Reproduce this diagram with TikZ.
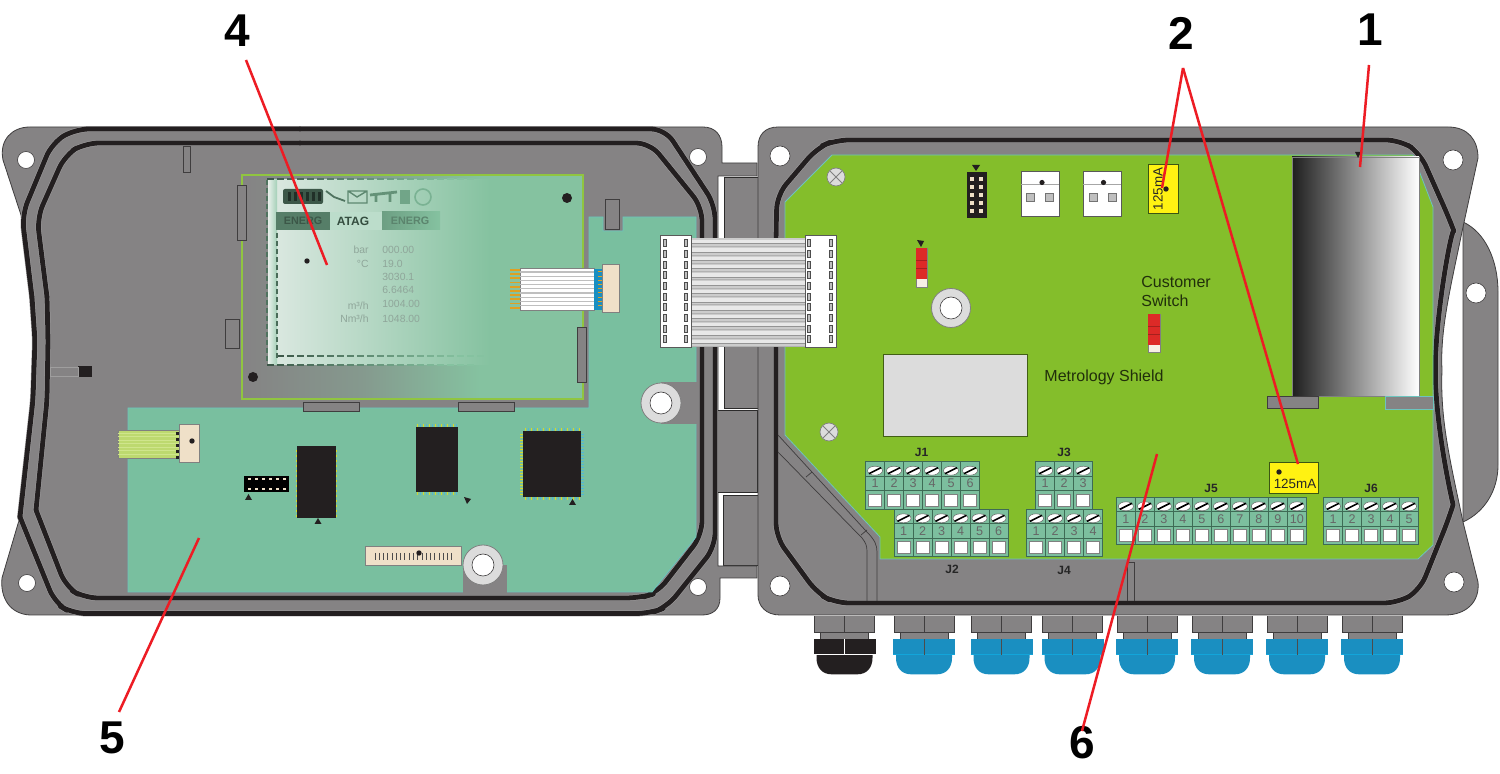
\documentclass[tikz,border=0pt]{standalone}
\usepackage{fontspec}
\setmainfont{Liberation Sans}
\definecolor{lidgray}{HTML}{858384}
\definecolor{lidline}{HTML}{3F3D3E}
\definecolor{gasket}{HTML}{231F20}
\definecolor{gasketedge}{HTML}{A3A1A2}
\definecolor{boardgreen}{HTML}{84BE2B}
\definecolor{boardedge}{HTML}{6CC4BE}
\definecolor{pcbteal}{HTML}{79BF9F}
\definecolor{panelteal}{HTML}{85C2A0}
\definecolor{termgreen}{HTML}{7CBF9E}
\definecolor{termline}{HTML}{3E6B55}
\definecolor{leader}{HTML}{ED1C24}
\definecolor{beige}{HTML}{EFE0C8}
\definecolor{glandblue}{HTML}{1A8FC1}
\definecolor{glandedge}{HTML}{12A5DA}
\definecolor{pinyellow}{HTML}{D6D92A}
\definecolor{pinblue}{HTML}{4FB7D8}
\definecolor{gold}{HTML}{E0A020}
\definecolor{washer}{HTML}{DCDCDC}
\definecolor{chip}{HTML}{231F20}
\definecolor{fuse}{HTML}{FFF212}
\definecolor{switchred}{HTML}{DD2A27}
\definecolor{lcdink}{HTML}{8FA69A}
\definecolor{lcdlight}{HTML}{DDE9E2}
\definecolor{lcdband}{HTML}{E8F0EB}
\definecolor{flexgreen}{HTML}{BDD96F}
\definecolor{flexlight}{HTML}{CFE58C}
\tikzset{
  x=0.5pt,y=-0.5pt,
  lid/.style={fill=lidgray,draw=lidline,line width=0.4pt},
  gasketunder/.style={draw=gasketedge,line width=2.9pt,line join=round,line cap=round},
  gasketline/.style={draw=gasket,line width=2.4pt,line join=round,line cap=round},
  clip part/.style={fill=lidgray,draw=#1,line width=0.5pt},
  clip part/.default=lidline,
  thinrib/.style={draw=lidline,line width=0.35pt},
  hingeblock/.style={fill=lidgray,draw=lidline!70!black,line width=0.4pt},
  hole/.style={fill=white,draw=lidline,line width=0.3pt},
  washerring/.style={fill=washer,draw=gray,line width=0.4pt},
  leaderline/.style={draw=leader,line width=1.25pt},
  bignum/.style={font=\fontsize{23}{23}\selectfont\bfseries,inner sep=0pt},
  boardtext/.style={font=\fontsize{8}{9.5}\selectfont,text=black!75!boardgreen,inner sep=0pt},
  jlabel/.style={font=\fontsize{6}{6}\selectfont\bfseries,text=black!85,inner sep=0pt},
  termnum/.style={font=\fontsize{6.3}{6.3}\selectfont,text=black!60,inner sep=0pt},
  fusetext/.style={font=\fontsize{6.7}{6.7}\selectfont,text=black!85,inner sep=0pt},
  lcdtext/.style={font=\fontsize{5.2}{5.2}\selectfont,text=lcdink,inner sep=0pt},
  slot/.style={fill=lightgray,draw=black!70,line width=0.3pt},
  whitepart/.style={fill=white,draw=black!65,line width=0.5pt},
}
\newcommand{\termblock}[4]{%
  \begin{scope}[shift={(#1,#2)}]
    \foreach \i in {1,...,#3}{
      \pgfmathsetmacro{\cx}{19*(\i-1)}
      \fill[termgreen] (\cx,0) rectangle +(19,47.5);
      \draw[termline,line width=0.4pt] (\cx,0) rectangle +(19,47.5);
      \draw[termline,line width=0.3pt] (\cx,14.5) -- +(19,0) (\cx,29) -- +(19,0);
      \filldraw[fill=white,draw=black!60,line width=0.25pt] ({\cx+9.5},9) ellipse [x radius=7.5,y radius=4.5];
      \draw[black,line width=0.8pt] ({\cx+3.5},12) -- ({\cx+15.5},6);
      \node[termnum] (#4-\i) at ({\cx+9.5},21.7) {\i};
      \fill[white] ({\cx+3},32.3) rectangle +(13,12);
      \draw[black!50,line width=0.4pt] ({\cx+3},32.3) rectangle +(13,12);
    }
  \end{scope}}
\newcommand{\gland}[4]{%
  \begin{scope}[shift={(#1,0)}]
    \fill[lidgray] (-30,616.5) rectangle (30,632.7);
    \draw[lidline,line width=0.35pt] (-30,616.5) -- (-30,632.7) -- (30,632.7) -- (30,616.5) (0,616.5) -- (0,632.7);
    \fill[lidgray] (-24,632.7) rectangle (24,639.5);
    \draw[lidline,line width=0.3pt] (-24,632.7) -- (-24,639.5) (24,632.7) -- (24,639.5);
    \fill[#2] (-31,639.5) rectangle (31,655);
    \fill[#2] (-28,655) -- (-28,658) .. controls (-28,668) and (-22,674.3) .. (-13,674.3) -- (13,674.3) .. controls (22,674.3) and (28,668) .. (28,658) -- (28,655) -- cycle;
    \draw[#4,line width=0.5pt] (-31,655) -- (31,655);
    \draw[#3,line width=0.4pt] (0,639.5) -- (0,655);
  \end{scope}}
\newcommand{\fusebox}[4]{\draw[fill=fuse,draw=black!55!boardgreen,line width=0.4pt] (#1,#2) rectangle (#3,#4);}
\begin{document}
\begin{tikzpicture}
\useasboundingbox (0,0) rectangle (1500,774);
\fill[white] (0,0) rectangle (1500,774);

% cable glands
\gland{844.5}{gasket}{white}{white}
\gland{924}{glandblue}{black!70}{glandedge}
\gland{1001.5}{glandblue}{black!70}{glandedge}
\gland{1072.5}{glandblue}{black!70}{glandedge}
\gland{1147}{glandblue}{black!70}{glandedge}
\gland{1222}{glandblue}{black!70}{glandedge}
\gland{1297}{glandblue}{black!70}{glandedge}
\gland{1372}{glandblue}{black!70}{glandedge}

% hinges
\draw[hingeblock] (724,177) rectangle (758,408);
\draw[hingeblock] (723,495) rectangle (758,565);

% left lid
\draw[lid] (30,127) -- (703,127) .. controls (715,127) and (722,135) .. (722,147) -- (722,163) -- (757,163) -- (757,176) -- (718,176) -- (718,566) -- (757,566) -- (757,578) -- (720,578) -- (720,598) .. controls (720,610) and (712,615) .. (702,615) -- (30,615) .. controls (10,614) and (0,598) .. (2,578) -- (20,517) -- (33,400) -- (35,340) -- (32,297) -- (21,215) -- (3,160) .. controls (-1,140) and (12,127) .. (30,127) -- cycle;
\draw[hingeblock] (717,410) rectangle (757,492);

% right lid with side bump
\draw[lid] (1463,222) .. controls (1485,232) and (1498,260) .. (1498,292) -- (1498,465) .. controls (1498,490) and (1485,512) .. (1463,522) -- cycle;
\draw[lid] (758,147) .. controls (758,135) and (765,127) .. (778,127) -- (1448,127) .. controls (1468,127) and (1478,140) .. (1478,158) -- (1463,227) .. controls (1450,290) and (1440,330) .. (1442,370) .. controls (1440,420) and (1450,460) .. (1463,522) -- (1478,582) .. controls (1480,602) and (1466,615) .. (1445,615) -- (780,615) .. controls (766,615) and (758,606) .. (758,595) -- cycle;

% gaskets, left lid
\foreach \st in {gasketunder,gasketline}{
  \draw[\st,rounded corners=7pt] (300,129) -- (75,129) -- (52,143) -- (22,215) -- (32,297);
  \draw[\st,rounded corners=4pt] (32,297) -- (35,340) -- (33,400) -- (20,517);
  \draw[\st,rounded corners=7pt] (20,517) -- (55,603) -- (72,613.5) -- (650,613.5) -- (667,607) -- (715,547) -- (715,205) -- (665,129) -- (300,129);
  \draw[\st,rounded corners=7pt] (300,143) -- (85,143) -- (65,155) -- (37,218) -- (47,297);
  \draw[\st,rounded corners=4pt] (47,297) -- (48,340) -- (47,400) -- (36,510);
  \draw[\st,rounded corners=7pt] (36,510) -- (66,587) -- (84,598) -- (640,598) -- (657,593) -- (702,535) -- (702,207) -- (650,143) -- (300,143);
}
% gasket, right lid
\foreach \st in {gasketunder,gasketline}{
  \draw[\st,rounded corners=7pt] (1000,140) -- (1400,140) -- (1420,153) -- (1449,218) .. controls (1452,226) and (1438,300) .. (1435,370) .. controls (1438,440) and (1453,505) .. (1449,518) -- (1420,590) -- (1398,603) -- (835,603) -- (817,593) -- (776,537) -- (776,235) -- (777,195) -- (817,148) -- (835,140) -- (1000,140);
}

% ribs on right lid
\draw[thinrib] (778,435) -- (866,531) .. controls (875,540) and (877,545) .. (877,552) -- (877,601);
\draw[thinrib] (778,452) -- (862,538) .. controls (866,543) and (867,546) .. (867,552) -- (867,601);
\draw[thinrib] (806,477) -- (812,472) (861,535) -- (867,530);
\draw[thinrib] (1127,601) -- (1127,562) -- (1134.5,562) -- (1134.5,601);

% small parts of left lid
\draw[clip part] (183,147) rectangle (190,173);
\fill[gasket] (78,366) rectangle (92,377);
\draw[thinrib,draw=lidline!50!white] (50,367) rectangle (78,376);

% teal board of the lid
\draw[fill=pcbteal,draw=boardedge,line width=0.4pt] (128,408) -- (589,408) -- (589,217) -- (603,217) -- (603,231) -- (623,231) -- (623,217) -- (696,217) -- (696,537) -- (652,592) -- (128,592) -- cycle;
\fill[lidgray] (661,382) rectangle (696.5,424);
\fill[lidgray] (463,565) rectangle (506.5,593);
\draw[clip part] (605,200) rectangle (619,230);

% display panel
\shade[left color=lidgray,right color=panelteal,middle color=lidgray!65!panelteal] (242,175) rectangle (480,399);
\fill[panelteal] (480,175) rectangle (583,399);
\shade[left color=lcdlight,right color=panelteal] (268,180) rectangle (490,365);
\shade[left color=lcdband,right color=lcdlight!35!panelteal] (268,180) rectangle (277,365);
\draw[draw=boardgreen!90!white,line width=0.8pt] (242,175) rectangle (583,399);
\fill[gasket] (567,198) circle (5);
\fill[gasket] (253,377) circle (5);
% display frame
\foreach \x in {0,10,...,200}{
  \pgfmathtruncatemacro{\p}{max(0,55-\x*0.3)}
  \draw[draw=black!\p!panelteal,line width=0.55pt] ({277+\x},356) -- ({284+\x},356);
  \draw[draw=black!\p!panelteal,line width=0.55pt] ({267+\x},365) -- ({274+\x},365);
  \draw[draw=black!\p!panelteal,line width=0.55pt] ({267+\x},179) -- ({274+\x},179);
}
\foreach \y in {233,241,...,353}{\draw[draw=black!45!panelteal,line width=0.55pt] (277,\y) -- (277,{\y+5});}
\foreach \y in {180,188,...,360}{\draw[draw=black!40!panelteal,line width=0.55pt] (267,\y) -- (267,{\y+5});}
% display tabs
\fill[black!35!panelteal] (276,212) rectangle (330,230);
\fill[white!45!panelteal] (330,212) rectangle (382,230);
\shade[left color=black!18!panelteal,right color=panelteal] (382,212) rectangle (440,230);
\node[font=\fontsize{5.4}{5.4}\selectfont\bfseries,text=black!55!panelteal,inner sep=0pt] (tabone) at (303,221) {ENERG};
\node[font=\fontsize{6}{6}\selectfont\bfseries,text=black!60!panelteal,inner sep=0pt] (tabtwo) at (353,221) {ATAG};
\node[font=\fontsize{5.4}{5.4}\selectfont\bfseries,text=black!32!panelteal,inner sep=0pt] (tabthree) at (410,221) {ENERG};
% display status icons
\fill[black!55!panelteal,rounded corners=1pt] (283,189) rectangle (323,204);
\foreach \x in {288,294,...,318}{\fill[black!75!panelteal] (\x,192) rectangle +(3,9);}
\draw[black!40!panelteal,line width=0.9pt] (326,191) -- (334,197) -- (345,201);
\draw[black!30!panelteal,line width=0.7pt] (348,191) rectangle (367,203) (348,191) -- (357,197) -- (367,191);
\draw[black!25!panelteal,line width=1.4pt] (370,195) -- (397,192) (376,195) -- (376,202) (390,193) -- (390,202);
\fill[black!15!panelteal] (400,190) rectangle (410,204);
\draw[black!8!panelteal,line width=0.8pt] (423,197) circle (8);
\fill[gasket] (307,261) circle (2.7);
% display values
\node[lcdtext,anchor=east] (ub) at (369,250) {bar};
\node[lcdtext,anchor=east] (uc) at (369,264) {°C};
\node[lcdtext,anchor=east] (ud) at (369,306) {m³/h};
\node[lcdtext,anchor=east] (ue) at (369,319) {Nm³/h};
\node[lcdtext,anchor=west] (va) at (382,250) {000.00};
\node[lcdtext,anchor=west] (vb) at (382,264) {19.0};
\node[lcdtext,anchor=west] (vc) at (382,277) {3030.1};
\node[lcdtext,anchor=west] (vd) at (382,290) {6.6464};
\node[lcdtext,anchor=west] (ve) at (382,304) {1004.00};
\node[lcdtext,anchor=west] (vf) at (382,319) {1048.00};

% clips round the panel
\draw[clip part] (237,186) rectangle (246,241);
\draw[clip part] (225,320) rectangle (239,349);
\draw[clip part] (577,328) rectangle (586,383);
\draw[clip part] (303,403) rectangle (359,412);
\draw[clip part] (458,403) rectangle (514,412);

% flex cable of the display
\foreach \y in {270,274.2,...,309}{\draw[gold,line width=0.9pt] (510,\y) -- (520,\y);}
\draw[fill=white,draw=gray,line width=0.4pt] (520,268) rectangle (594,310);
\foreach \y in {272,276.2,...,309}{\draw[lightgray,line width=0.55pt] (520,\y) -- (594,\y);}
\fill[glandblue] (594,269) rectangle (602,310);
\foreach \y in {272,276.2,...,309}{\draw[gold,line width=0.5pt] (598,\y) -- (602,\y);}
\draw[fill=beige,draw=gray,line width=0.5pt] (602,265) rectangle (619,313);

% parts of the lid board
\foreach \y in {432,435,...,456}{\draw[black!50,line width=0.25pt] (117,\y) -- (119,\y);}
\draw[fill=flexgreen,draw=gray,line width=0.3pt] (118,430) rectangle (179,458);
\foreach \y in {433,436.5,...,456}{\draw[flexlight,line width=0.4pt] (118,\y) -- (179,\y);}
\foreach \y in {432,438,...,456}{\fill[gasket] (176,\y) rectangle (179.5,{\y+3.5});}
\draw[fill=beige,draw=gray,line width=0.5pt] (179,425) rectangle (199,463);
\fill[gasket] (192,441) circle (2.7);

\fill[black] (244,476) rectangle (289,492);
\foreach \x in {249,256,...,284}{\foreach \y in {479,489}{\fill[beige] ({\x-1},{\y-1}) rectangle +(2.5,2.5);}}
\fill[gasket] (245,500) -- (248.5,494) -- (252,500) -- cycle;

\foreach \y in {450,455,...,515}{\fill[pinyellow] (296,\y) rectangle +(1,2); \fill[pinyellow] (336,\y) rectangle +(1,2);}
\fill[chip] (297,446) rectangle (336,518);
\fill[gasket] (314.5,524) -- (318,518) -- (321.5,524) -- cycle;

\foreach \x in {417,420,...,456}{
  \pgfmathtruncatemacro{\m}{mod(\x,2)}
  \ifnum\m=0 \def\pc{pinblue}\else\def\pc{pinyellow}\fi
  \fill[\pc] (\x,424) rectangle +(1.3,3);
  \fill[\pc] (\x,492) rectangle +(1.3,3);
}
\fill[chip] (416,427) rectangle (458,492);
\fill[gasket] (464,497) -- (471,499) -- (467,504) -- cycle;

\foreach \x in {525,528,...,579}{
  \pgfmathtruncatemacro{\m}{mod(\x,2)}
  \ifnum\m=0 \def\pc{pinblue}\else\def\pc{pinyellow}\fi
  \fill[\pc] (\x,428) rectangle +(1.3,3);
  \fill[\pc] (\x,497) rectangle +(1.3,3);
}
\foreach \y in {434,437,...,494}{\fill[pinyellow] (520,\y) rectangle +(3,1.2); \fill[pinblue] (581,\y) rectangle +(3,1.2);}
\fill[chip] (523,431) rectangle (581,497);
\fill[gasket] (569,505) -- (572.5,499) -- (576,505) -- cycle;

\draw[fill=beige,draw=gray,line width=0.5pt] (365,547) rectangle (461,566);
\foreach \x in {375,379.27,...,453}{\draw[black!70,line width=0.4pt] (\x,553) -- (\x,560);}
\fill[gasket] (419,553) circle (2.7);

\draw[washerring] (661,403) circle (20);
\draw[hole] (661,403) circle (11);
\draw[washerring] (483,565) circle (20);
\draw[hole] (483,565) circle (11);

% holes in lids
\foreach \px/\py/\r in {26/160/8.5,27/583/8.5,698/157/8.5,698/587/8.5,780/156/10,1453/160/10,780/586/10,1454/582/10,1476/293/10}{
  \draw[hole] (\px,\py) circle (\r);
}

% green board
\draw[fill=boardgreen,draw=boardedge,line width=0.4pt] (832,155) -- (1413,155) -- (1433,207) -- (1433,545) -- (1418,559) -- (880,559) -- (880,537) -- (785,435) -- (785,202) -- cycle;

% parts on green board
\foreach \sx/\sy in {836/177,829/432}{
  \draw[fill=washer,draw=gray,line width=0.35pt] (\sx,\sy) circle (9);
  \draw[gray,line width=0.4pt] ({\sx-6},{\sy-6}) -- ({\sx+6},{\sy+6}) ({\sx-6},{\sy+6}) -- ({\sx+6},{\sy-6});
}
\fill[gasket] (967,172) rectangle (987,218);
\foreach \y in {179,187,195,203,211}{\foreach \x in {972,981}{\fill[beige] ({\x-2},{\y-2}) rectangle +(4,4);}}
\fill[gasket] (972,165) -- (980,165) -- (976,171) -- cycle;

\draw[whitepart] (1021,172) rectangle (1059,217);
\draw[whitepart] (1083,172) rectangle (1121,217);
\draw[black!35,line width=0.5pt] (1021,185) -- (1059,185) (1083,185) -- (1121,185);
\foreach \x/\y in {1030/197,1049/197,1093/197,1112/197}{\draw[fill=lightgray,draw=black!55,line width=0.4pt] ({\x-4},{\y-4}) rectangle +(8,8);}
\fill[gasket] (1042,182.5) circle (2.6);
\fill[gasket] (1103.5,182.5) circle (2.6);

\fusebox{1148}{164}{1178}{213}
\node[fusetext,rotate=90] (fuseone) at (1158,189) {125mA};
\fill[gasket] (1166,189) circle (2.7);

\fusebox{1269}{462}{1318}{493}
\node[fusetext] (fusetwo) at (1295,484) {125mA};
\fill[gasket] (1279,472) circle (2.7);

% switches
\draw[fill=beige!50!white,draw=gray,line width=0.4pt] (916,248) rectangle (927,287);
\fill[switchred] (916,248) rectangle (927,279);
\draw[black!25!switchred,line width=0.3pt] (916,260) -- (927,260) (916,268) -- (927,268);
\fill[gasket] (917,240) -- (924,241) -- (921,247) -- cycle;
\draw[fill=beige!50!white,draw=gray,line width=0.4pt] (1148,314) rectangle (1160,352);
\fill[switchred] (1148,314) rectangle (1160,345);
\draw[black!25!switchred,line width=0.3pt] (1148,326) -- (1160,326) (1148,334) -- (1160,334);

\draw[washerring] (951,308) circle (19.5);
\draw[hole] (951,308) circle (11);

\node[boardtext,align=left,anchor=north west] (custsw) at (1141,276) {Customer\\Switch};
\node[boardtext] (metro) at (1104,377) {Metrology Shield};
\draw[fill=washer,draw=black!50!boardgreen,line width=0.4pt] (883,354) rectangle (1027,436);

% battery
\shade[left color=black!88,right color=white] (1292,157) rectangle (1419,396);
\draw[gray,line width=0.35pt] (1292,157) rectangle (1419,396);
\fill[gasket] (1355,152) -- (1361,152) -- (1358,158) -- cycle;
\draw[clip part] (1267,397) rectangle (1318,409);
\draw[clip part=boardedge] (1385,397) rectangle (1433,410);

% terminal blocks
\termblock{865.5}{461.7}{6}{ja}
\termblock{894}{509.3}{6}{jb}
\termblock{1035.7}{461.7}{3}{jc}
\termblock{1026.5}{509.3}{4}{jd}
\termblock{1116.4}{497.3}{10}{je}
\termblock{1323.5}{497.3}{5}{jf}
\node[jlabel] (lja) at (921.5,452.7) {J1};
\node[jlabel] (ljc) at (1064,452.7) {J3};
\node[jlabel] (lje) at (1211,488.3) {J5};
\node[jlabel] (ljf) at (1371,488.3) {J6};
\node[jlabel] (ljb) at (952,569) {J2};
\node[jlabel] (ljd) at (1064,570) {J4};

% ribbon between the lids
\fill[black!20] (691,238) rectangle (806,346);
\foreach \y in {240,248.3,...,345}{
  \fill[black!9] (691,\y) rectangle (806,{\y+3.5});
  \draw[black!42,line width=0.25pt] (691,{\y+3.7}) -- (806,{\y+3.7});
  \draw[black!30,line width=0.2pt] (691,{\y+6.5}) -- (806,{\y+6.5});
}
\draw[whitepart] (660,236) rectangle (691,348);
\draw[whitepart] (805,236) rectangle (836,348);
\foreach \y in {243,253.7,...,340}{
  \foreach \x in {665,686,809,831}{\draw[slot] ({\x-1.5},{\y-3.5}) rectangle +(3,7);}
}

% leader lines and callouts
\node[bignum] (ca) at (1370,30) {1};
\node[bignum] (cb) at (1181,33) {2};
\node[bignum] (cd) at (237,31) {4};
\node[bignum] (ce) at (112,738) {5};
\node[bignum] (cf) at (1082,743) {6};
\coordinate (la) at (1369,65);
\coordinate (ta) at (1360,167);
\coordinate (lb) at (1183,68);
\coordinate (tb) at (1162,188);
\coordinate (tc) at (1298,464);
\coordinate (ld) at (246,60);
\coordinate (td) at (327,265);
\coordinate (le) at (119,712);
\coordinate (te) at (199,538);
\coordinate (lf) at (1082,731);
\coordinate (tf) at (1157,454);
\draw[leaderline] (la) -- (ta);
\draw[leaderline] (lb) -- (tb);
\draw[leaderline] (lb) -- (tc);
\draw[leaderline] (ld) -- (td);
\draw[leaderline] (le) -- (te);
\draw[leaderline] (lf) -- (tf);
\end{tikzpicture}
\end{document}
